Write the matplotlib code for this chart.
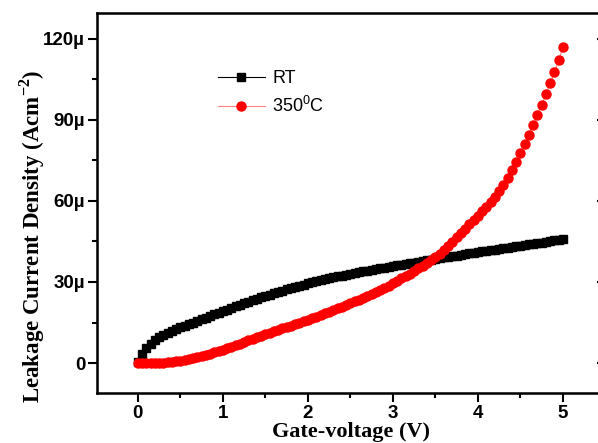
import numpy as np
import matplotlib.pyplot as plt
from matplotlib.ticker import MultipleLocator

plt.rcParams['mathtext.fontset'] = 'custom'
plt.rcParams['mathtext.rm'] = 'Liberation Sans'
plt.rcParams['mathtext.bf'] = 'Liberation Serif:bold'

# Gate voltage (V), 0 to 5 in 0.05 V steps
voltage = [i * 0.05 for i in range(101)]

# Leakage current density in uA/cm^2
rt_current = [
    0.5, 3.5, 5.6, 7.1, 8.4, 9.5, 10.4, 11.2, 11.9, 12.6,
    13.2, 13.8, 14.4, 15.0, 15.6, 16.2, 16.8, 17.4, 18.0, 18.6,
    19.2, 19.8, 20.4, 21.0, 21.6, 22.2, 22.7, 23.3, 23.8, 24.3,
    24.8, 25.3, 25.8, 26.3, 26.8, 27.3, 27.7, 28.2, 28.6, 29.0,
    29.5, 29.9, 30.3, 30.7, 31.0, 31.4, 31.7, 32.1, 32.4, 32.7,
    33.0, 33.3, 33.6, 33.9, 34.2, 34.5, 34.8, 35.0, 35.3, 35.6,
    35.9, 36.2, 36.4, 36.7, 37.0, 37.2, 37.5, 37.8, 38.0, 38.3,
    38.6, 38.8, 39.1, 39.3, 39.6, 39.8, 40.1, 40.3, 40.6, 40.8,
    41.0, 41.3, 41.5, 41.8, 42.0, 42.2, 42.5, 42.7, 43.0, 43.2,
    43.4, 43.7, 43.9, 44.2, 44.4, 44.6, 44.9, 45.1, 45.4, 45.6,
    45.8,
]
ht_current = [
    0.0, 0.0, 0.0, -0.1, -0.1, 0.0, 0.1, 0.2, 0.4, 0.6,
    0.9, 1.2, 1.5, 1.8, 2.2, 2.6, 3.0, 3.4, 3.9, 4.4,
    4.9, 5.4, 6.0, 6.6, 7.2, 7.8, 8.4, 9.0, 9.6, 10.1,
    10.6, 11.2, 11.7, 12.3, 12.8, 13.3, 13.8, 14.3, 14.8, 15.4,
    16.0, 16.6, 17.2, 17.8, 18.4, 19.0, 19.6, 20.2, 20.9, 21.6,
    22.3, 22.9, 23.5, 24.1, 24.8, 25.5, 26.3, 27.0, 27.8, 28.6,
    29.5, 30.4, 31.3, 32.2, 33.1, 34.0, 35.0, 36.0, 37.0, 38.1,
    39.2, 40.5, 41.9, 43.4, 44.9, 46.5, 48.1, 49.7, 51.3, 52.9,
    54.5, 56.2, 57.9, 59.7, 61.6, 63.7, 66.0, 68.6, 71.4, 74.4,
    77.6, 81.0, 84.5, 88.1, 91.8, 95.6, 99.5, 103.5, 107.7, 112.2,
    117.0,
]

y_ticks = [0, 30, 60, 90, 120]
y_tick_labels = ['0', '30\u00b5', '60\u00b5', '90\u00b5', '120\u00b5']
x_ticks = [0, 1, 2, 3, 4, 5]

fig = plt.figure(figsize=(5.98, 4.43), dpi=100)
W, H = 598.0, 443.0
left, right, top, bottom = 97, 605.5, 13, 393
ax = fig.add_axes([left / W, (H - bottom) / H, (right - left) / W, (bottom - top) / H])

ax.plot(voltage, rt_current, '-', color='black', lw=0.8, marker='s', ms=5.5,
        mec='black', mfc='black', label='RT')
ax.plot(voltage, ht_current, '-', color='#ff8080', lw=0.8, marker='o', ms=6.5,
        mec='red', mfc='red', label='350$^0$C')

ax.set_xlim(-0.48, 5.5)
ax.set_ylim(-11.1, 129.6)

ax.set_xticks(x_ticks)
ax.set_xticklabels([str(t) for t in x_ticks])
ax.set_yticks(y_ticks)
ax.set_yticklabels(y_tick_labels)
ax.xaxis.set_minor_locator(MultipleLocator(0.5))
ax.yaxis.set_minor_locator(MultipleLocator(15))

ax.tick_params(which='major', direction='out', length=6.5, width=1.5, pad=2)
ax.tick_params(which='minor', direction='out', length=3.5, width=1.5)
for lab in ax.get_xticklabels() + ax.get_yticklabels():
    lab.set_fontfamily('Liberation Sans')
    lab.set_fontweight('bold')
    lab.set_fontsize(13.5)

for sp in ax.spines.values():
    sp.set_linewidth(1.8)

# inward ticks on the right spine
ax2 = ax.twinx()
ax2.set_ylim(ax.get_ylim())
ax2.set_yticks(y_ticks)
ax2.set_yticklabels([])
ax2.tick_params(direction='in', length=6.5, width=1.5)
ax2.spines['right'].set_linewidth(1.8)

ax.set_xlabel('Gate-voltage (V)', family='Liberation Serif', fontweight='bold',
              fontsize=16, labelpad=0)
ax.set_ylabel('Leakage Current Density (Acm$^{\\mathbf{-2}}$)', family='Liberation Serif',
              fontweight='bold', fontsize=16.5)
ax.yaxis.set_label_coords((47 - left) / (right - left), (bottom - 236) / (bottom - top))

ax.legend(loc='upper left', bbox_to_anchor=((218 - left) / (right - left), (bottom - 70) / (bottom - top)),
          frameon=False, borderpad=0, borderaxespad=0, handlelength=2.6, handletextpad=0.4,
          labelspacing=0.5, prop={'family': 'Liberation Sans', 'size': 13})

fig.savefig('out.png', dpi=100)
